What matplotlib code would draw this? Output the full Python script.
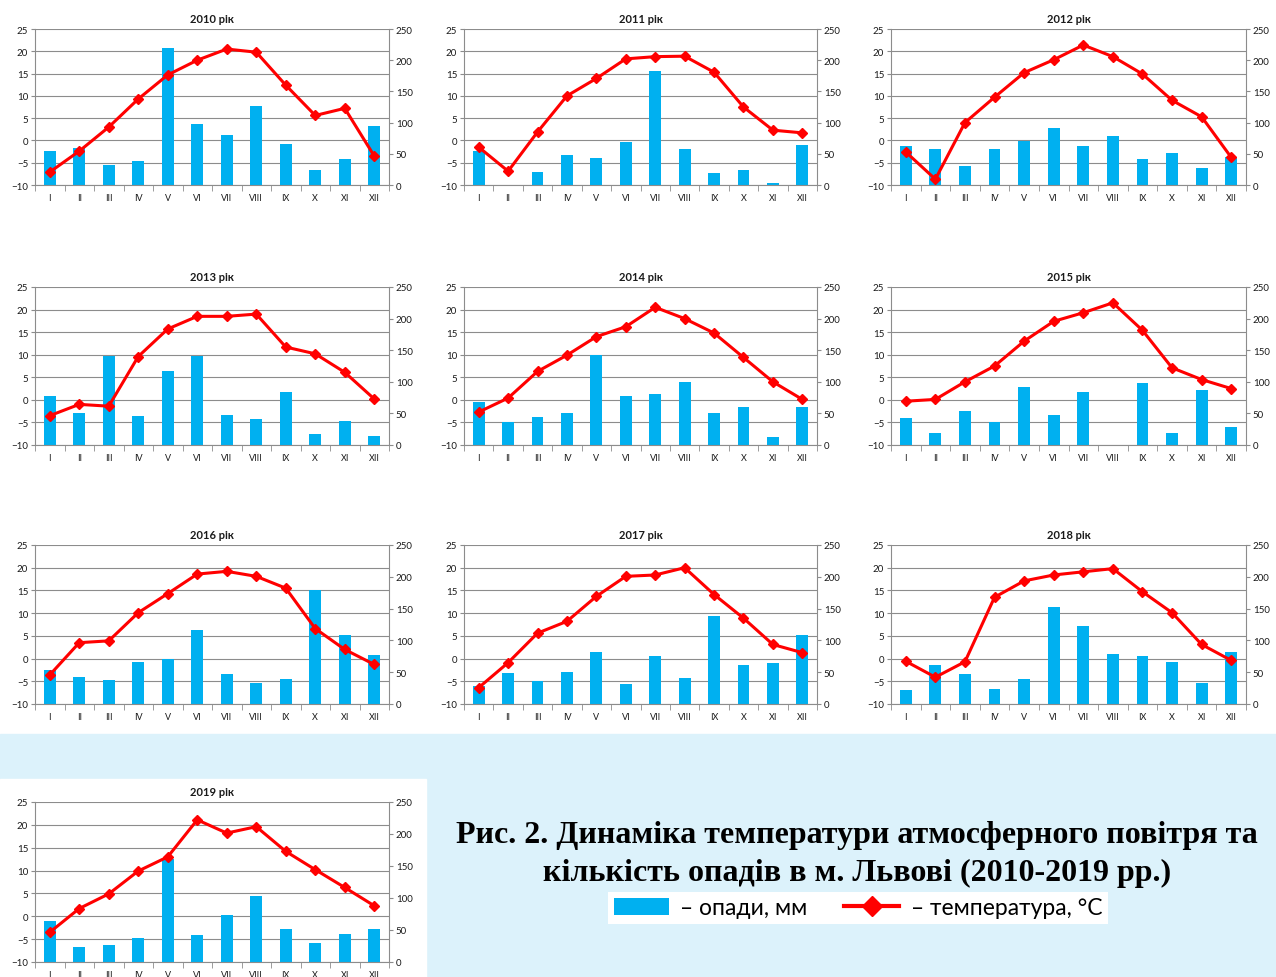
import numpy as np
import matplotlib.pyplot as plt
from matplotlib.patches import Patch, Rectangle
from matplotlib.lines import Line2D

plt.rcParams['font.family'] = ['Lato', 'DejaVu Sans']

# місяці
months = ['I', 'II', 'III', 'IV', 'V', 'VI', 'VII', 'VIII', 'IX', 'X', 'XI', 'XII']

# температура, °C
t2010 = [-7.1, -2.4, 3.0, 9.3, 14.7, 18.0, 20.5, 19.8, 12.4, 5.6, 7.2, -3.5]
t2011 = [-1.5, -6.9, 1.9, 10.0, 13.9, 18.3, 18.8, 18.9, 15.3, 7.5, 2.3, 1.7]
t2012 = [-2.6, -8.7, 4.0, 9.7, 15.2, 18.1, 21.4, 18.8, 14.9, 9.0, 5.3, -3.8]
t2013 = [-3.5, -1.0, -1.4, 9.6, 15.7, 18.5, 18.5, 19.0, 11.7, 10.2, 6.1, 0.2]
t2014 = [-2.7, 0.4, 6.3, 9.9, 14.0, 16.2, 20.5, 18.0, 14.8, 9.4, 4.0, 0.1]
t2015 = [-0.3, 0.1, 4.0, 7.5, 13.0, 17.4, 19.3, 21.5, 15.4, 7.1, 4.5, 2.5]
t2016 = [-3.6, 3.5, 3.9, 10.1, 14.3, 18.6, 19.2, 18.1, 15.5, 6.6, 2.0, -1.3]
t2017 = [-6.4, -0.9, 5.6, 8.2, 13.7, 18.1, 18.4, 20.0, 14.1, 8.9, 3.1, 1.3]
t2018 = [-0.6, -4.1, -0.7, 13.5, 17.1, 18.4, 19.1, 19.8, 14.7, 10.1, 3.1, -0.4]
t2019 = [-3.5, 1.7, 4.9, 9.9, 13.0, 21.1, 18.2, 19.6, 14.2, 10.2, 6.3, 2.3]

# опади, мм
p2010 = [54, 60, 32, 38, 219, 97, 80, 126, 65, 24, 42, 94]
p2011 = [55, 0, 21, 48, 44, 69, 183, 58, 19, 24, 3, 64]
p2012 = [62, 58, 31, 57, 70, 91, 62, 78, 41, 52, 28, 45]
p2013 = [77, 50, 141, 46, 117, 141, 48, 41, 84, 17, 38, 14]
p2014 = [68, 36, 44, 51, 143, 78, 81, 99, 51, 60, 12, 60]
p2015 = [43, 19, 54, 37, 92, 47, 84, 0, 98, 19, 87, 29]
p2016 = [54, 43, 37, 66, 70, 116, 47, 33, 40, 179, 109, 77]
p2017 = [29, 48, 36, 50, 82, 32, 76, 41, 138, 62, 65, 109]
p2018 = [22, 61, 47, 23, 40, 153, 123, 78, 76, 66, 33, 82]
p2019 = [64, 24, 26, 38, 161, 42, 74, 103, 51, 30, 43, 52]

years = [2010, 2011, 2012, 2013, 2014, 2015, 2016, 2017, 2018, 2019]
temps = [t2010, t2011, t2012, t2013, t2014, t2015, t2016, t2017, t2018, t2019]
precs = [p2010, p2011, p2012, p2013, p2014, p2015, p2016, p2017, p2018, p2019]

W, H = 1276, 978
fig = plt.figure(figsize=(W / 100, H / 100), dpi=100)

# фон-водяний знак (світло-блакитний) у нижній частині
fig.patches.append(Rectangle((0, 0), 1, 1 - 735 / H, transform=fig.transFigure,
                             color='#dcf2fb', zorder=-5))
fig.patches.append(Rectangle((0, 0), 426 / W, 1 - 780 / H, transform=fig.transFigure,
                             color='white', zorder=-4))

BLUE = '#00B0F0'
RED = '#FF0000'
GRID = '#8c8c8c'
TXT = '#1a1a1a'

# позиції графіків (px): left, right, top, bottom
cols = [(35, 389), (464, 817), (891, 1246)]
rows = [(30, 186), (288, 446), (546, 705), (803, 963)]

x = np.arange(12)
for i, (yr, tv, pv) in enumerate(zip(years, temps, precs)):
    l, r = cols[i % 3]
    t, b = rows[i // 3]
    ax = fig.add_axes([l / W, 1 - b / H, (r - l) / W, (b - t) / H])
    ax2 = ax.twinx()
    ax2.set_zorder(1)
    ax.set_zorder(2)
    ax.patch.set_visible(False)
    ax2.patch.set_facecolor('white')

    ax.set_ylim(-10, 25)
    ax2.set_ylim(0, 250)
    ax.set_xlim(-0.5, 11.5)

    # сітка під стовпчиками
    for tk in range(-10, 30, 5):
        ax2.plot([0, 1], [tk, tk], transform=ax.get_yaxis_transform(),
                 color=GRID, lw=0.8, zorder=0.5)

    ax2.bar(x, pv, width=0.4, color=BLUE, zorder=2)
    ax.plot(x, tv, color=RED, lw=2.2, marker='D', ms=5, mec=RED, zorder=3)

    ax.set_yticks(range(-10, 30, 5))
    ax2.set_yticks(range(0, 300, 50))
    ax.set_xticks(x)
    ax.set_xticklabels(months)
    ax.set_xticks(np.arange(-0.5, 12, 1), minor=True)
    ax.tick_params(axis='x', which='major', length=0, pad=6, labelsize=6.5, colors=TXT)
    ax.tick_params(axis='x', which='minor', length=4, color=GRID, direction='out')
    ax.tick_params(axis='y', length=3, labelsize=7, colors=TXT, pad=2)
    ax2.tick_params(axis='y', length=3, labelsize=7, colors=TXT, pad=2)
    ax.tick_params(axis='y', color=GRID)
    ax2.tick_params(axis='y', color=GRID)

    for a in (ax, ax2):
        a.spines['top'].set_visible(False)
        for s in ('left', 'right', 'bottom'):
            a.spines[s].set_color(GRID)
            a.spines[s].set_linewidth(0.8)
    ax.spines['right'].set_visible(False)
    ax2.spines['left'].set_visible(False)
    ax2.spines['bottom'].set_visible(False)

    ax.set_title(f'{yr} рік', fontsize=8, fontweight='bold', pad=5, color=TXT)

# підпис рисунка
fig.text(857 / W, 1 - 836 / H, 'Рис. 2. Динаміка температури атмосферного повітря та',
         ha='center', va='center', family='Liberation Serif', fontweight='bold',
         fontsize=23, color='black')
fig.text(857 / W, 1 - 873 / H, 'кількість опадів в м. Львові (2010-2019 рр.)',
         ha='center', va='center', family='Liberation Serif', fontweight='bold',
         fontsize=23, color='black')

handles = [Patch(facecolor=BLUE, edgecolor='none'),
           Line2D([0], [0], color=RED, lw=3, marker='D', ms=10, mec=RED)]
leg = fig.legend(handles, ['– опади, мм', '– температура, °C'], loc='center',
                 bbox_to_anchor=(858 / W, 1 - 909 / H), ncol=2, fontsize=16.5,
                 frameon=True, fancybox=False, handlelength=2.4, handleheight=0.8,
                 handletextpad=0.5, columnspacing=1.6, borderpad=0.25)
leg.get_frame().set_facecolor('white')
leg.get_frame().set_edgecolor('none')
leg.get_frame().set_alpha(1)

fig.savefig('out.png', dpi=100)
